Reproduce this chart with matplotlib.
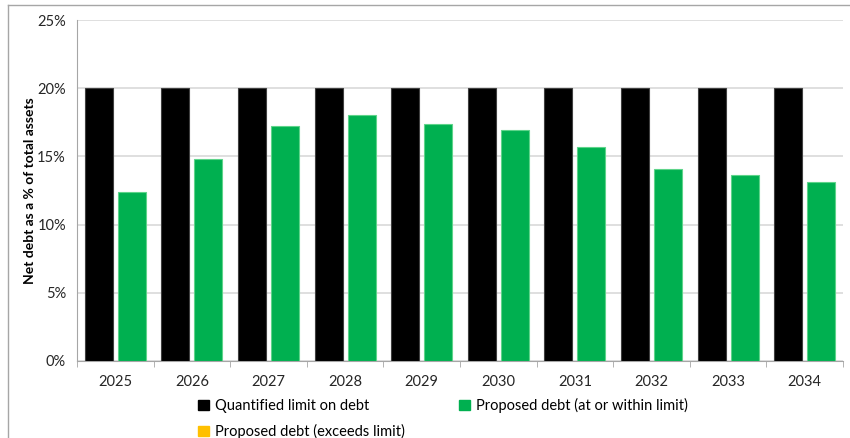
import matplotlib.pyplot as plt
import matplotlib.patches as mpatches
from matplotlib.lines import Line2D
import numpy as np

# Net debt data by year (% of total assets)
years = ["2025", "2026", "2027", "2028", "2029", "2030", "2031", "2032", "2033", "2034"]
debt_limit = [20, 20, 20, 20, 20, 20, 20, 20, 20, 20]
proposed_debt = [12.4, 14.8, 17.2, 18.0, 17.4, 16.9, 15.7, 14.1, 13.6, 13.1]
legend_labels = ["Quantified limit on debt",
                 "Proposed debt (at or within limit)",
                 "Proposed debt (exceeds limit)"]

black = "#000000"
green = "#00B050"
amber = "#FFC000"
grid_grey = "#D9D9D9"
axis_grey = "#A6A6A6"

plt.rcParams["font.family"] = ["Lato", "DejaVu Sans"]

fig = plt.figure(figsize=(8.5, 4.38), dpi=100)
ax = fig.add_axes([77 / 850, 1 - 361 / 438, 766 / 850, 341 / 438])

x = np.arange(len(years))
width = 0.366
offset = 0.215
ax.bar(x - offset, debt_limit, width, color=black, edgecolor="#404040", linewidth=0.8, zorder=3)
ax.bar(x + offset, proposed_debt, width, color=green, edgecolor="#5ED48A", linewidth=0.8, zorder=3)

ax.set_xlim(-0.5, len(years) - 0.5)
ax.set_ylim(0, 25)
ax.set_yticks([0, 5, 10, 15, 20, 25])
ax.set_yticklabels(["0%", "5%", "10%", "15%", "20%", "25%"])
ax.set_xticks(x)
ax.set_xticklabels(years)
ax.set_xticks(np.arange(len(years) + 1) - 0.5, minor=True)

ax.grid(axis="y", color=grid_grey, linewidth=1.2, zorder=0)
ax.tick_params(axis="x", which="major", length=0, pad=10, labelsize=10.5)
ax.tick_params(axis="x", which="minor", length=4, color=axis_grey)
ax.tick_params(axis="y", length=0, pad=8, labelsize=10.5)
for lbl in ax.get_xticklabels() + ax.get_yticklabels():
    lbl.set_color("#262626")

for side in ["top", "right"]:
    ax.spines[side].set_visible(False)
ax.spines["left"].set_color(axis_grey)
ax.spines["bottom"].set_color(axis_grey)

ax.set_ylabel("Net debt as a % of total assets", fontsize=10, fontweight="bold", labelpad=1)

# legend placed below the axes
handles = [mpatches.Patch(color=black), mpatches.Patch(color=amber), mpatches.Patch(color=green)]
labels = [legend_labels[0], legend_labels[2], legend_labels[1]]
ax.legend(handles, labels, ncol=2, loc="upper left",
          bbox_to_anchor=(198 / 850, 1 - 398 / 438), bbox_transform=fig.transFigure,
          frameon=False, fontsize=10.5, handlelength=0.75, handleheight=0.75,
          handletextpad=0.4, columnspacing=3.75, labelspacing=0.75,
          borderaxespad=0, borderpad=0)

# outer chart border (left and top edges)
fig.add_artist(Line2D([8 / 850, 8 / 850], [0, 1 - 5 / 438], transform=fig.transFigure,
                      color=axis_grey, linewidth=1.0))
fig.add_artist(Line2D([8 / 850, 1], [1 - 5 / 438, 1 - 5 / 438], transform=fig.transFigure,
                      color=axis_grey, linewidth=1.0))

fig.savefig("out.png", dpi=100)
